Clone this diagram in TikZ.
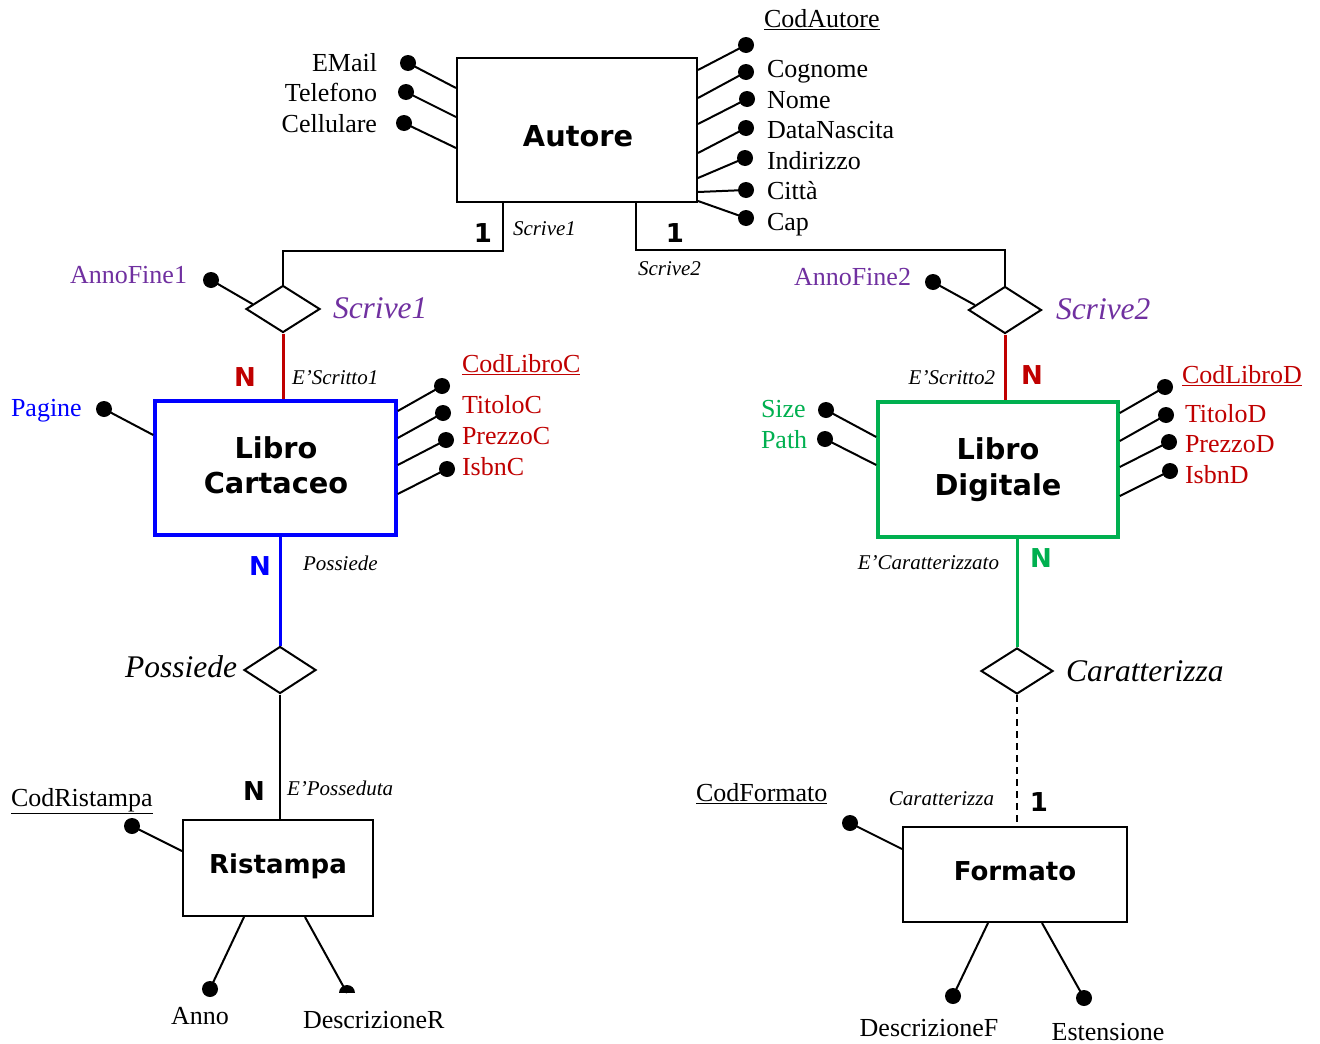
\documentclass[tikz,border=0pt]{standalone}
\usepackage{fontspec}
\setmainfont{Liberation Serif}
\newfontfamily\entfont{DejaVu Sans}
\usetikzlibrary{shapes.geometric,calc}
\definecolor{cpurple}{HTML}{7030A0}
\definecolor{cred}{HTML}{C00000}
\definecolor{cblue}{HTML}{0000FF}
\definecolor{cgreen}{HTML}{00B050}
\begin{document}
\begin{tikzpicture}[x=1pt,y=-1pt,
  line width=2pt,
  entity/.style={draw,rectangle,inner sep=0pt,line width=2pt},
  rel/.style={draw,diamond,inner sep=0pt,line width=2pt},
  adot/.style={circle,fill=black,draw=none,inner sep=0pt,minimum size=16pt},
  atxt/.style={inner sep=0pt,font=\fontsize{26}{28}\selectfont,text height=17.2pt,text depth=0pt},
  ital/.style={inner sep=0pt,font=\fontsize{21}{23}\selectfont\itshape,text height=13.9pt,text depth=0pt},
  bigital/.style={inner sep=0pt,font=\fontsize{31.5}{33}\selectfont\itshape,text height=20.8pt,text depth=0pt},
  card/.style={inner sep=0pt,font=\entfont\bfseries\fontsize{26}{28}\selectfont,text height=19pt,text depth=0pt},
  etitle/.style={inner sep=0pt,font=\entfont\bfseries\fontsize{28.8}{30}\selectfont,text height=21pt,text depth=0pt},
  etitles/.style={inner sep=0pt,font=\entfont\bfseries\fontsize{26}{28}\selectfont,text height=19pt,text depth=0pt}]
\path[use as bounding box,fill=white] (0,0) rectangle (1320,1044);

% ---------- entities ----------
\node[entity,minimum width=240pt,minimum height=144pt] (autore) at (577,130) {};
\node[etitle] (autoreT) at (578,136) {Autore};
\node[entity,draw=cblue,line width=3.5pt,minimum width=241pt,minimum height=134pt] (lc) at (275.5,468) {};
\node[etitle] (lcT1) at (276,448) {Libro};
\node[etitle] (lcT2) at (276,483) {Cartaceo};
\node[entity,draw=cgreen,line width=3.5pt,minimum width=240pt,minimum height=135pt] (ld) at (998,469.5) {};
\node[etitle] (ldT1) at (998,449) {Libro};
\node[etitle] (ldT2) at (998,485) {Digitale};
\node[entity,minimum width=190pt,minimum height=96pt] (rist) at (278,868) {};
\node[etitles] (ristT) at (278,864) {Ristampa};
\node[entity,minimum width=224pt,minimum height=95pt] (fmt) at (1015,874.5) {};
\node[etitles] (fmtT) at (1015,871) {Formato};

% ---------- relationships ----------
\node[rel,minimum width=74pt,minimum height=47pt] (s1) at (283,309) {};
\node[rel,minimum width=73pt,minimum height=47pt] (s2) at (1005,310) {};
\node[rel,minimum width=72pt,minimum height=47pt] (pos) at (280,670) {};
\node[rel,minimum width=72pt,minimum height=46pt] (car) at (1017,671) {};

% ---------- relationship connectors ----------
\draw (autore.south -| 503,0) |- (s1.north |- 0,251) -- (s1.north);
\draw (autore.south -| 636,0) |- (s2.north |- 0,250) -- (s2.north);
\draw[cred,line width=3pt] (s1.south) -- (s1.south |- lc.north);
\draw[cred,line width=3pt] (s2.south) -- (s2.south |- ld.north);
\draw[cblue,line width=3pt] (lc.south -| pos.north) -- (pos.north);
\draw (pos.south) -- (pos.south |- rist.north);
\draw[cgreen,line width=3pt] (ld.south -| car.north) -- (car.north);
\draw[dashed,dash pattern=on 7pt off 5pt] (car.south) -- (car.south |- fmt.north);

% ---------- cardinalities and role labels ----------
\node[card] (c1) at (483,233) {1};
\node[ital,anchor=west] (r1) at (512,229) {Scrive1};
\node[card] (c2) at (675,233) {1};
\node[ital,anchor=west] (r2) at (637,269) {Scrive2};
\node[card,text=cred] (c3) at (245,377) {N};
\node[ital,anchor=west] (r3) at (291,378) {E’Scritto1};
\node[card,text=cred] (c4) at (1032,375) {N};
\node[ital,anchor=east] (r4) at (996,378) {E’Scritto2};
\node[card,text=cblue] (c5) at (260,566) {N};
\node[ital,anchor=west] (r5) at (302,564) {Possiede};
\node[card] (c6) at (254,791) {N};
\node[ital,anchor=west] (r6) at (286,789) {E’Posseduta};
\node[card,text=cgreen] (c7) at (1041,558) {N};
\node[ital,anchor=east] (r7) at (1000,563) {E’Caratterizzato};
\node[card] (c8) at (1039,802) {1};
\node[ital,anchor=east] (r8) at (995,799) {Caratterizza};

% ---------- relationship names ----------
\node[bigital,text=cpurple,anchor=west] (s1T) at (332,308) {Scrive1};
\node[bigital,text=cpurple,anchor=west] (s2T) at (1055,309) {Scrive2};
\node[bigital,anchor=east] (posT) at (238,667) {Possiede};
\node[bigital,anchor=west] (carT) at (1065,671) {Caratterizza};

% ---------- Autore attributes ----------
\node[adot] (aEm) at (408,63) {};
\node[adot] (aTe) at (406,92) {};
\node[adot] (aCe) at (404,123) {};
\draw (aEm.center) -- (autore.west |- 0,88);
\draw (aTe.center) -- (autore.west |- 0,117);
\draw (aCe.center) -- (autore.west |- 0,148);
\node[atxt,anchor=east] (tEm) at (378,63) {EMail};
\node[atxt,anchor=east] (tTe) at (378,93) {Telefono};
\node[atxt,anchor=east] (tCe) at (378,124) {Cellulare};

\node[adot] (aCo) at (746,45) {};
\node[adot] (aCg) at (746,72) {};
\node[adot] (aNo) at (747,99) {};
\node[adot] (aDN) at (746,128) {};
\node[adot] (aIn) at (745,158) {};
\node[adot] (aCi) at (746,190) {};
\node[adot] (aCa) at (746,218) {};
\draw (aCo.center) -- (autore.east |- 0,70);
\draw (aCg.center) -- (autore.east |- 0,98);
\draw (aNo.center) -- (autore.east |- 0,124);
\draw (aDN.center) -- (autore.east |- 0,153);
\draw (aIn.center) -- (autore.east |- 0,178);
\draw (aCi.center) -- (autore.east |- 0,192);
\draw (aCa.center) -- (autore.east |- 0,201);
\node[atxt,anchor=west] (tCo) at (763,19) {\underline{CodAutore}};
\node[atxt,anchor=west] (tCg) at (766,69) {Cognome};
\node[atxt,anchor=west] (tNo) at (766,100) {Nome};
\node[atxt,anchor=west] (tDN) at (766,130) {DataNascita};
\node[atxt,anchor=west] (tIn) at (766,161) {Indirizzo};
\node[atxt,anchor=west] (tCi) at (766,191) {Città};
\node[atxt,anchor=west] (tCa) at (766,222) {Cap};

% ---------- relationship attributes ----------
\node[adot] (aAF1) at (211,280) {};
\draw (aAF1.center) -- ($(s1.west)!0.2!(s1.north)$);
\node[atxt,text=cpurple,anchor=east] (tAF1) at (188,275) {AnnoFine1};
\node[adot] (aAF2) at (933,282) {};
\draw (aAF2.center) -- ($(s2.west)!0.2!(s2.north)$);
\node[atxt,text=cpurple,anchor=east] (tAF2) at (912,277) {AnnoFine2};

% ---------- Libro Cartaceo attributes ----------
\node[adot] (aPa) at (104,409) {};
\draw (aPa.center) -- (lc.west |- 0,435);
\node[atxt,text=cblue,anchor=west] (tPa) at (10,408) {Pagine};
\node[adot] (aCLC) at (442,386) {};
\node[adot] (aTC) at (443,413) {};
\node[adot] (aPC) at (446,440) {};
\node[adot] (aIC) at (447,469) {};
\draw (aCLC.center) -- (lc.east |- 0,411);
\draw (aTC.center) -- (lc.east |- 0,438);
\draw (aPC.center) -- (lc.east |- 0,465);
\draw (aIC.center) -- (lc.east |- 0,494);
\node[atxt,text=cred,anchor=west] (tCLC) at (461,364) {\underline{CodLibroC}};
\node[atxt,text=cred,anchor=west] (tTC) at (461,405) {TitoloC};
\node[atxt,text=cred,anchor=west] (tPC) at (461,436) {PrezzoC};
\node[atxt,text=cred,anchor=west] (tIC) at (461,467) {IsbnC};

% ---------- Libro Digitale attributes ----------
\node[adot] (aSi) at (826,410) {};
\node[adot] (aPt) at (825,439) {};
\draw (aSi.center) -- (ld.west |- 0,437);
\draw (aPt.center) -- (ld.west |- 0,465);
\node[atxt,text=cgreen,anchor=west] (tSi) at (760,409) {Size};
\node[atxt,text=cgreen,anchor=west] (tPt) at (760,440) {Path};
\node[adot] (aCLD) at (1165,387) {};
\node[adot] (aTD) at (1166,415) {};
\node[adot] (aPD) at (1169,442) {};
\node[adot] (aID) at (1170,471) {};
\draw (aCLD.center) -- (ld.east |- 0,413);
\draw (aTD.center) -- (ld.east |- 0,441);
\draw (aPD.center) -- (ld.east |- 0,467);
\draw (aID.center) -- (ld.east |- 0,496);
\node[atxt,text=cred,anchor=west] (tCLD) at (1181,375) {\underline{CodLibroD}};
\node[atxt,text=cred,anchor=west] (tTD) at (1184,414) {TitoloD};
\node[atxt,text=cred,anchor=west] (tPD) at (1184,444) {PrezzoD};
\node[atxt,text=cred,anchor=west] (tID) at (1184,475) {IsbnD};

% ---------- Ristampa attributes ----------
\node[adot] (aCR) at (132,826) {};
\draw (aCR.center) -- (rist.west |- 0,851);
\node[atxt,anchor=west] (tCR) at (10,798) {\underline{CodRistampa}};
\node[adot] (aAn) at (210,989) {};
\draw (aAn.center) -- (rist.south -| 244,0);
\node[atxt] (tAn) at (200,1016) {Anno};
\begin{scope}
  \clip (320,960) rectangle (380,992);
  \node[adot] (aDR) at (347,993) {};
\end{scope}
\draw (aDR.center) -- (rist.south -| 305,0);
\node[atxt,anchor=west] (tDR) at (302,1020) {DescrizioneR};

% ---------- Formato attributes ----------
\node[adot] (aCF) at (850,823) {};
\draw (aCF.center) -- (fmt.west |- 0,849);
\node[atxt,anchor=west] (tCF) at (695,793) {\underline{CodFormato}};
\node[adot] (aDF) at (953,996) {};
\draw (aDF.center) -- (fmt.south -| 988,0);
\node[atxt] (tDF) at (929,1028) {DescrizioneF};
\node[adot] (aEs) at (1084,998) {};
\draw (aEs.center) -- (fmt.south -| 1042,0);
\node[atxt] (tEs) at (1108,1032) {Estensione};
\end{tikzpicture}
\end{document}
